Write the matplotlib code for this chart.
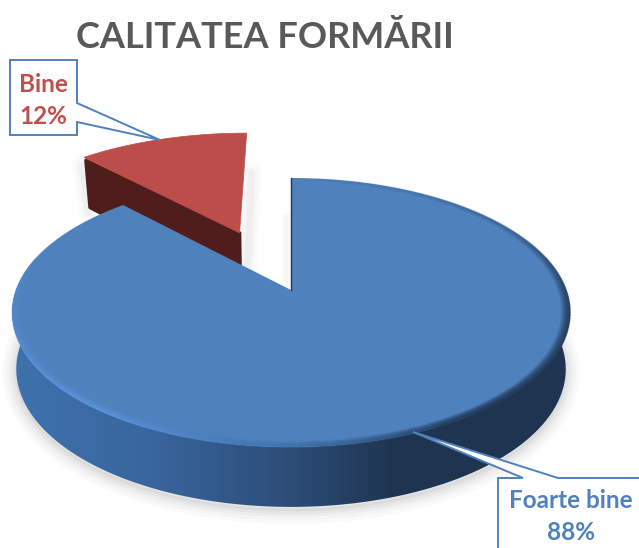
import matplotlib
matplotlib.use("Agg")
import matplotlib.pyplot as plt
from matplotlib.collections import LineCollection
from matplotlib.colors import LinearSegmentedColormap
from matplotlib.patches import Polygon
import numpy as np

title = "CALITATEA FORMĂRII"
labels = ["Foarte bine", "Bine"]
values = [88, 12]
explode = [0.0, 0.507]
top_colors = ["#4f81bd", "#bd4d4a"]
cut_colors = ["#1f3552", "#4f1d1b"]
label_colors = ["#4f81bd", "#c0504d"]

plt.rcParams["font.family"] = ["Lato", "DejaVu Sans"]

# pie plane -> picture pixels (perspective fitted by eye)
cx, cy = 291, 290
sx, sy = 275, 130.7
persp = 0.167


def project(u, v, low=False):
    d = 1 + persp * v
    x = cx + sx * u / d
    y = cy - sy * v / d
    if low:
        x = cx + (x - cx) * 0.985
        y = y + 56 - 4 * v
    return x, y


def rim(start, stop, off=(0, 0), r=1.0, low=False, n=200):
    t = np.radians(np.linspace(start, stop, n))
    return project(off[0] + r * np.sin(t), off[1] + r * np.cos(t), low)


fig = plt.figure(figsize=(6.39, 5.48), dpi=100)
ax = fig.add_axes([0, 0, 1, 1])

# slice angles, clockwise from 12 o'clock
fracs = np.array(values) / sum(values)
ends = np.cumsum(fracs) * 360
starts = ends - fracs * 360

# red slice, exploded
mid = np.radians((starts[1] + ends[1]) / 2)
off = (explode[1] * np.sin(mid) - 0.015, explode[1] * np.cos(mid))
rx, ry = rim(starts[1], ends[1], off, r=1.03)
ax0, ay0 = project(off[0], off[1])
lx, ly = rim(starts[1], starts[1], off, r=1.03, low=True, n=1)
ax1, ay1 = project(off[0], off[1], low=True)

for w, a in [(14, 0.03), (9, 0.04), (5, 0.05)]:
    ax.plot([rx[-1] + 5, ax1 + 6], [ry[-1] + 40, ay1], color="#808080", lw=w, alpha=a,
            solid_capstyle="round", zorder=1)
    ax.plot([rx[0] - 2, lx[0] + 2], [ry[0] + 8, ly[0] + 4], color="#808080", lw=w, alpha=a,
            solid_capstyle="round", zorder=1)

ax.add_patch(Polygon(np.c_[[rx[0] + 2, ax0, ax1, lx[0] + 3], [ry[0] + 3, ay0, ay1, ly[0] - 1]],
                     fc=cut_colors[1], ec=cut_colors[1], lw=2.5, joinstyle="round", zorder=2))
ax.add_patch(Polygon(np.c_[np.r_[rx, ax0], np.r_[ry, ay0]], fc=top_colors[1],
                     ec=top_colors[1], lw=0.5, zorder=3))

# soft shadow under the blue slice
bx, by = rim(70, 290, low=True)
for w, a in [(20, 0.03), (15, 0.04), (10, 0.05), (6, 0.06), (2, 0.08)]:
    ax.plot(bx, by + 3, color="#707070", lw=w, alpha=a, zorder=4, solid_capstyle="round")

# blue side wall with horizontal gradient
tx, ty = rim(75, 285)
wx, wy = rim(75, 285, low=True)
wall = Polygon(np.c_[np.r_[tx, wx[::-1]], np.r_[ty, wy[::-1]]],
               fc="none", ec="none", transform=ax.transData)
ax.add_patch(wall)
wall_cmap = LinearSegmentedColormap.from_list(
    "wall", [(0, "#3e72ad"), (0.25, "#39669e"), (0.5, "#2c4c76"), (0.68, "#1f3552"), (1, "#1e3450")])
img = ax.imshow(np.linspace(0, 1, 256)[None, :], extent=(10, 575, 548, 150), cmap=wall_cmap,
                aspect="auto", zorder=5)
img.set_clip_path(wall)

# blue top face
fx, fy = rim(starts[0], ends[0], n=500)
ax.add_patch(Polygon(np.c_[np.r_[fx, cx], np.r_[fy, cy]], fc=top_colors[0], ec="none", zorder=6))

# bevel along the rim of the top face, strongest at the front
bevel_cmap = LinearSegmentedColormap.from_list(
    "bevel", [(0, "#4f81bd"), (0.1, "#3a5f8f"), (0.28, "#1f3552"), (0.42, "#223a5c"),
              (0.5, "#3f70ab"), (0.6, "#5c97e2"), (0.8, "#5a90d4"), (0.92, "#5283c2"), (1, "#4f81bd")])
th = np.linspace(5, ends[0], 500)
strength = np.interp(th, [5, 60, 95, 140, 170, 200, 250, 290, 317], [0, 0.25, 0.9, 1, 0.6, 0.7, 0.4, 0.1, 0])
for k in range(9, -1, -1):
    px, py = rim(th[0], th[-1], r=1 - k * 0.0032, n=500)
    pts = np.c_[px, py].reshape(-1, 1, 2)
    segs = np.concatenate([pts[:-1], pts[1:]], axis=1)
    cols = bevel_cmap(th[:-1] / 360)
    cols[:, 3] = strength[:-1] * (0.9 - k * 0.09)
    ax.add_collection(LineCollection(segs, colors=cols, linewidths=1.2, zorder=7))

# dark cut edge on the right of the gap
ax.plot([fx[0], cx], [fy[0], cy], color=cut_colors[0], lw=1.0, zorder=8)
for w, a in [(8, 0.03), (4, 0.04)]:
    ax.plot([fx[0] - 4, cx - 4], [fy[0] + 40, cy - 6], color="#808080", lw=w, alpha=a, zorder=1)

# callouts
edge = "#4f81bd"
ax.add_patch(Polygon([(10, 60), (77, 60), (77, 103), (160, 140), (77, 122), (77, 135), (10, 135)],
                     fc="white", ec=edge, lw=1.4, joinstyle="miter", zorder=9))
ax.add_patch(Polygon([(498, 560), (498, 478), (523, 478), (413, 432), (558, 478), (660, 478), (660, 560)],
                     fc="white", ec=edge, lw=1.4, joinstyle="miter", zorder=9))

for name, val, col, x, y in zip(labels, values, label_colors, [570.5, 43.5], [500, 84]):
    ax.text(x, y, name, color=col, fontsize=17.5, fontweight="bold", ha="center", va="center", zorder=10)
    ax.text(x, y + 33, f"{val}%", color=col, fontsize=17.5, fontweight="bold",
            ha="center", va="center", zorder=10)

ax.text(264.5, 37, title, color="#595959", fontsize=26, fontweight="bold", ha="center", va="center", zorder=10)

ax.set_xlim(0, 639)
ax.set_ylim(548, 0)
ax.axis("off")
fig.savefig("out.png", dpi=100)
